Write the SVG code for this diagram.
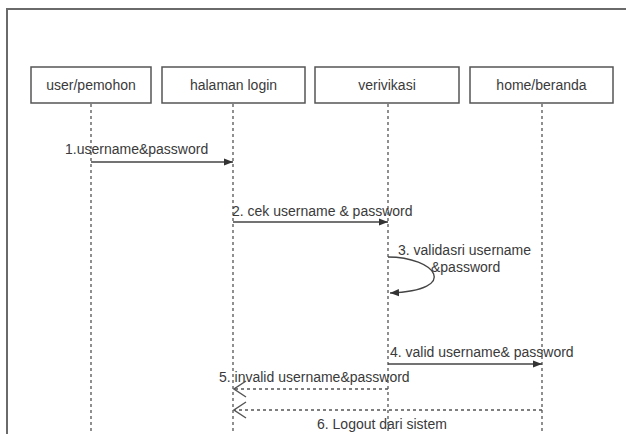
<svg xmlns="http://www.w3.org/2000/svg" width="626" height="434" viewBox="0 0 626 434">
  <defs>
    <style>
      .frame { fill: none; stroke: #6a6a6a; stroke-width: 2; }
      .box { fill: #ffffff; stroke: #555555; stroke-width: 1.5; }
      .life { fill: none; stroke: #555555; stroke-width: 1.3; stroke-dasharray: 3 3; }
      .msg { fill: none; stroke: #444444; stroke-width: 1.3; }
      .ret { fill: none; stroke: #555555; stroke-width: 1.3; stroke-dasharray: 3 3; }
      text { font-family: "Liberation Sans", Arial, sans-serif; font-size: 14px; fill: #3a3a3a; }
      .name { text-anchor: middle; }
    </style>
    <marker id="block" viewBox="0 0 10 10" refX="10" refY="5" markerWidth="9" markerHeight="9" markerUnits="userSpaceOnUse" orient="auto">
      <path d="M0,1 L10,5 L0,9 Z" fill="#333333"/>
    </marker>
    <marker id="open" viewBox="0 0 14 18" refX="13" refY="9" markerWidth="14" markerHeight="18" markerUnits="userSpaceOnUse" orient="auto">
      <path d="M1,1 L13,9 L1,17" fill="none" stroke="#555555" stroke-width="1.4"/>
    </marker>
  </defs>

  <rect width="626" height="434" fill="#ffffff"/>
  <!-- outer frame: left and top edges -->
  <path class="frame" d="M7,434 L7,9 L626,9"/>

  <!-- lifelines -->
  <g id="lifelines">
    <line class="life" x1="91" y1="104" x2="91" y2="434"/>
    <line class="life" x1="233" y1="104" x2="233" y2="434"/>
    <line class="life" x1="388" y1="104" x2="388" y2="434"/>
    <line class="life" x1="542" y1="104" x2="542" y2="434"/>
  </g>

  <g id="user-pemohon">
    <rect class="box" x="31" y="67" width="120" height="36"/>
    <text class="name" x="91" y="90">user/pemohon</text>
  </g>
  <g id="halaman-login">
    <rect class="box" x="162" y="67" width="143" height="36"/>
    <text class="name" x="233.5" y="90">halaman login</text>
  </g>
  <g id="verivikasi">
    <rect class="box" x="315" y="67" width="144" height="36"/>
    <text class="name" x="387" y="90">verivikasi</text>
  </g>
  <g id="home-beranda">
    <rect class="box" x="470" y="67" width="143" height="36"/>
    <text class="name" x="541.5" y="90">home/beranda</text>
  </g>

  <!-- messages -->
  <g id="connectors">
    <line class="msg" x1="91" y1="162" x2="233" y2="162" marker-end="url(#block)"/>
    <line class="msg" x1="233" y1="222" x2="388" y2="222" marker-end="url(#block)"/>
    <path class="msg" d="M388,257 C435,257 462,290 390,293" marker-end="url(#block)"/>
    <line class="msg" x1="388" y1="364" x2="542" y2="364" marker-end="url(#block)"/>
    <line class="ret" x1="388" y1="389" x2="234" y2="389" marker-end="url(#open)"/>
    <line class="ret" x1="542" y1="410" x2="234" y2="410" marker-end="url(#open)"/>
  </g>

  <g id="labels">
    <text x="65" y="154">1.username&amp;password</text>
    <text x="232" y="216">2. cek username &amp; password</text>
    <text x="398" y="255">3. validasri username</text>
    <text x="431" y="272">&amp;password</text>
    <text x="390" y="357">4. valid username&amp; password</text>
    <text x="219" y="382">5. invalid username&amp;password</text>
    <text x="317" y="429">6. Logout dari sistem</text>
  </g>
</svg>
